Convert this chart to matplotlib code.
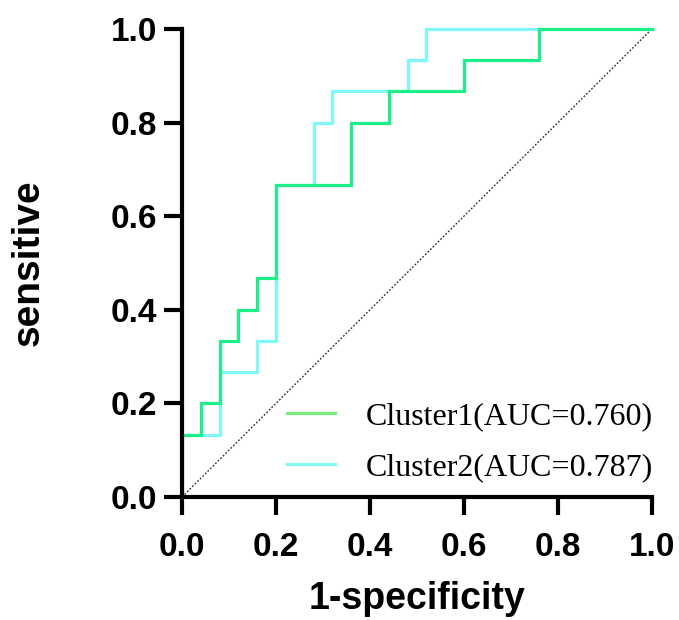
import matplotlib
matplotlib.use("Agg")
import matplotlib.pyplot as plt
from matplotlib.lines import Line2D

# ROC corner points
fpr1 = [0, 0, 0.04, 0.04, 0.08, 0.08, 0.12, 0.12, 0.16, 0.16, 0.20, 0.20,
        0.36, 0.36, 0.44, 0.44, 0.60, 0.60, 0.76, 0.76, 1.0]
tpr1 = [0, 0.133, 0.133, 0.200, 0.200, 0.333, 0.333, 0.400, 0.400, 0.467, 0.467, 0.667,
        0.667, 0.800, 0.800, 0.867, 0.867, 0.933, 0.933, 1.0, 1.0]

fpr2 = [0, 0, 0.08, 0.08, 0.16, 0.16, 0.20, 0.20, 0.28, 0.28, 0.32, 0.32,
        0.48, 0.48, 0.52, 0.52, 1.0]
tpr2 = [0, 0.133, 0.133, 0.267, 0.267, 0.333, 0.333, 0.667, 0.667, 0.800, 0.800, 0.867,
        0.867, 0.933, 0.933, 1.0, 1.0]

labels = ["Cluster1(AUC=0.760)", "Cluster2(AUC=0.787)"]
ticks = [0.0, 0.2, 0.4, 0.6, 0.8, 1.0]

fig = plt.figure(figsize=(6.79, 6.2), dpi=100)
ax = fig.add_axes([0.268, 0.1984, 0.692, 0.7548])

ax.plot([0, 1], [0, 1], color="#333333", linestyle=(0, (1.3, 1.3)), linewidth=1.0)
ax.plot(fpr2, tpr2, color="#80f8f8", linewidth=2.3, solid_joinstyle="miter")
ax.plot(fpr1, tpr1, color="#1eee8a", linewidth=2.3, solid_joinstyle="miter")

ax.set_xlim(0, 1)
ax.set_ylim(0, 1)
ax.set_xticks(ticks)
ax.set_yticks(ticks)
ax.set_xticklabels([f"{t:.1f}" for t in ticks])
ax.set_yticklabels([f"{t:.1f}" for t in ticks])

for s in ["top", "right"]:
    ax.spines[s].set_visible(False)
for s in ["left", "bottom"]:
    ax.spines[s].set_linewidth(3.0)
    ax.spines[s].set_color("black")

ax.tick_params(axis="both", direction="out", length=13, width=3.0, color="black")
ax.tick_params(axis="x", pad=12)
ax.tick_params(axis="y", pad=5)
for lab in ax.get_xticklabels() + ax.get_yticklabels():
    lab.set_fontfamily("Liberation Sans")
    lab.set_fontweight("bold")
    lab.set_fontsize(24)

ax.set_xlabel("1-specificity", fontfamily="Liberation Sans", fontweight="bold",
              fontsize=27, labelpad=13)
ax.set_ylabel("sensitive", fontfamily="Liberation Sans", fontweight="bold",
              fontsize=28, labelpad=46)

handles = [Line2D([], [], color="#77ee77", linewidth=2.3),
           Line2D([], [], color="#80f8f8", linewidth=2.3)]
ax.legend(handles, labels, loc="lower right", bbox_to_anchor=(1.043, -0.01),
          frameon=False, prop={"family": "Liberation Serif", "size": 23},
          handlelength=1.5, handletextpad=0.97, labelspacing=0.7,
          borderaxespad=0.2)

for line in ax.get_lines():
    line.set_clip_on(False)

fig.savefig("out.png", dpi=100)
